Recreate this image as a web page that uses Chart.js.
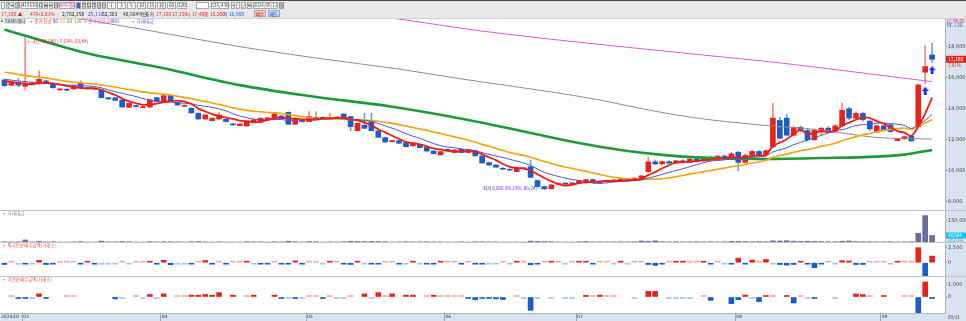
<!DOCTYPE html>
<html>
<head>
<meta charset="utf-8">
<script src="https://cdn.jsdelivr.net/npm/chart.js@4.4.1/dist/chart.umd.min.js"></script>
<style>
  html, body { margin: 0; padding: 0; background: #fff; overflow: hidden; }
  #wrap { position: relative; width: 966px; height: 321px; }
</style>
</head>
<body>
<div id="wrap"><canvas id="chart"></canvas></div>
<script>
// trading days shown (135 of 436), 2024/02/27 .. 2024/09/11
const dates = [
  "02/27","02/28","02/29",
  "03/04","03/05","03/06","03/07","03/08","03/11","03/12","03/13","03/14","03/15","03/18","03/19","03/20","03/21","03/22","03/25","03/26","03/27","03/28","03/29",
  "04/01","04/02","04/03","04/04","04/05","04/08","04/09","04/11","04/12","04/15","04/16","04/17","04/18","04/19","04/22","04/23","04/24","04/25","04/26","04/29","04/30",
  "05/02","05/03","05/07","05/08","05/09","05/10","05/13","05/14","05/16","05/17","05/20","05/21","05/22","05/23","05/24","05/27","05/28","05/29","05/30","05/31",
  "06/03","06/04","06/05","06/07","06/10","06/11","06/12","06/13","06/14","06/17","06/18","06/19","06/20","06/21","06/24","06/25","06/26","06/27","06/28",
  "07/01","07/02","07/03","07/04","07/05","07/08","07/09","07/10","07/11","07/12","07/15","07/16","07/17","07/18","07/19","07/22","07/23","07/24","07/25","07/26","07/29","07/30","07/31",
  "08/01","08/02","08/05","08/06","08/07","08/08","08/09","08/12","08/13","08/14","08/16","08/19","08/20","08/21","08/22","08/23","08/26","08/27","08/28","08/29","08/30",
  "09/02","09/03","09/04","09/05","09/06","09/09","09/10","09/11"
];

const opens = [15850,15510,15680,15440,15650,15640,15790,15640,15210,15250,
  15270,15640,15350,15320,15210,14710,14700,14560,14090,14200,
  14070,14110,14710,14500,14840,14410,14160,14030,13710,13340,
  13230,13340,13320,13020,12910,12890,13170,13130,13350,13320,
  13530,13770,13000,13320,13170,13380,13450,13330,13400,13660,
  13490,12590,12940,13170,12570,12140,11880,11950,11820,11610,
  11670,11520,11280,11030,11390,11180,11390,11180,11300,10960,
  10530,10380,10170,10090,9950,10190,10270,9380,8990,8850,
  9150,9210,9160,9210,9230,9440,9240,9300,9400,9350,
  9460,9400,9540,9950,10580,10450,10600,10500,10650,10550,
  10760,10650,10850,10750,10950,10850,11200,10550,11000,11250,
  11050,11550,13250,13400,12300,12800,12600,12000,12600,12750,
  12550,12900,14000,13400,13700,13200,12500,12900,12960,11950,
  12060,12230,12850,16350,17460];
const highs = [15900,15750,15960,18580,15700,16430,15850,15680,15300,15290,
  15500,15790,15380,15360,15240,14740,14730,14590,14370,14230,
  14160,14590,14740,14860,14870,14440,14250,14060,13740,13620,
  13410,13750,13350,13050,13040,13230,13400,13420,13450,13680,
  13580,13800,13410,13350,13810,13800,13480,13700,13460,13690,
  13520,13080,13710,13710,12600,12170,11970,11980,11850,11800,
  11700,11550,11300,11260,11420,11370,11420,11370,11330,10980,
  10560,10400,10200,10120,10190,10220,10700,9410,9020,9120,
  9230,9240,9250,9400,9460,9470,9350,9420,9450,9480,
  9520,9560,9700,10900,10700,10650,10650,10700,10720,10800,
  10850,10900,10950,11000,11050,11200,11250,11100,11300,11300,
  11350,14370,13450,13650,12900,12900,12700,12700,12800,12850,
  13000,14370,14100,13800,13750,13250,12950,12950,13000,12100,
  12250,12300,15600,18050,18200];
const lows = [15450,15480,15420,15200,15560,15530,15600,15330,15180,15170,
  15250,15330,15250,15240,14690,14600,14520,14090,14060,14110,
  14050,14090,14440,14480,14480,14220,14140,13710,13320,13320,
  13200,13320,13150,12940,12890,12870,13100,13110,13300,13300,
  13340,12980,12980,13150,13150,13360,13350,13310,13380,13430,
  12590,12570,12720,12570,12140,11840,11860,11760,11540,11590,
  11480,11260,11090,11010,11290,11160,11160,11160,10950,10490,
  10360,10220,10090,10030,9930,10120,9570,8970,8800,8820,
  9130,9140,9140,9190,9210,9220,9220,9280,9320,9330,
  9380,9380,9500,9900,10400,10400,10450,10480,10520,10530,
  10600,10600,10700,10720,10800,10800,10000,10500,10950,11000,
  11000,11500,12050,12250,12250,12500,11900,11950,12300,12500,
  12500,12850,13300,13300,13200,12600,12450,12550,12500,11930,
  12040,11900,12800,15600,16980];
const closes = [15480,15680,15510,15610,15580,15890,15640,15350,15270,15190,
  15480,15350,15280,15260,14710,14630,14540,14110,14350,14130,
  14130,14560,14460,14840,14500,14240,14220,13730,13340,13600,
  13390,13600,13170,12960,13020,13210,13280,13390,13420,13660,
  13360,13000,13390,13170,13490,13420,13370,13420,13440,13450,
  12850,13060,12740,12590,12160,11860,11950,11780,11560,11780,
  11500,11280,11110,11240,11310,11350,11180,11350,10970,10510,
  10380,10240,10110,10050,10170,10140,9590,8990,8850,9100,
  9210,9160,9230,9380,9440,9240,9330,9400,9350,9460,
  9400,9540,9680,10580,10450,10600,10500,10650,10550,10760,
  10650,10850,10750,10950,10850,11100,10550,11000,11250,11050,
  11300,13400,12100,12300,12800,12600,12000,12600,12750,12550,
  12900,13900,13400,13700,13300,12700,12900,12600,12530,12060,
  12200,11930,15530,16710,17180];

// closes of the 19 sessions before the window, needed to start the 5/10/20 averages
const priorCloses = [16900,17100,16950,16800,16700,16850,16900,16750,16600,16500,
  16200,16100,15950,16000,15900,15800,15950,15700,15850];

// long averages as [index, price]
const ma60Read = [[0,19100],[11,17670],[23,16600],[34,15520],[44,14820],[56,14130],[67,13280],
  [76,12440],[83,11800],[89,11350],[95,11030],[100,10870],[109,10770],[118,10830],[126,10920],[130,11050],[134,11350]];
const ma120Read = [[5,20250],[11,19780],[20,19100],[34,17990],[46,17200],[57,16550],[67,15850],
  [79,15080],[86,14560],[93,13920],[100,13400],[109,12960],[118,12630],[126,12150],[134,12050]];
const ma240Read = [[52,20050],[57,19770],[68,19050],[79,18470],[90,17950],[101,17450],[112,16950],[123,16350],[134,15740]];

// 거래대금 (백만)
const tradingValue = [6000,5000,5500,18000,5000,9000,5000,6000,4000,4000,
  5000,7000,4000,4000,10000,5000,5000,7000,6000,4000,
  4000,7000,5000,6000,6000,5000,4000,6000,7000,5000,
  4000,5000,4000,4000,4000,6000,5000,5000,4000,6000,
  5000,9000,6000,4000,7000,6000,4000,5000,4000,6000,
  9000,8000,7000,8000,7000,6000,4000,5000,6000,5000,
  5000,6000,5000,5000,4000,4000,5000,4000,6000,6000,
  5000,5000,4000,4000,4000,4000,10000,8000,7000,6000,
  4000,4000,4000,6000,7000,5000,5000,5000,5000,6000,
  5000,6000,11000,9000,12000,6000,5000,6000,5000,5000,
  6000,5000,6000,5000,6000,9000,8000,7000,6000,7000,
  6000,12000,11000,13000,10000,8000,9000,8000,7000,6000,
  6000,9000,11000,7000,6000,6000,5000,5000,6000,5000,
  5000,6000,63700,185000,48564];

// 외국인순매수금액(거래소)
const foreignNet = [-300,60,-60,-250,-60,400,-300,-120,60,60,
  60,-120,250,-120,-60,-60,-60,60,-60,60,
  60,200,-150,400,-350,-60,-60,-150,60,350,
  -150,60,-250,60,60,200,-60,-120,-150,60,
  -150,-150,300,-150,60,60,-60,150,60,-150,
  -300,200,-60,-250,-200,60,60,-120,-60,150,
  -60,-150,-120,200,60,60,-150,60,-200,-150,
  -60,-60,60,-60,150,60,-350,-200,60,250,
  60,-60,60,150,200,-120,60,60,-60,150,
  -60,60,60,-300,-450,-150,60,200,150,60,
  60,220,-250,60,-60,-120,750,-150,430,60,
  530,-60,-300,-400,-300,150,-120,-830,-120,60,
  -60,330,280,-300,-300,60,60,60,-60,150,
  60,60,2500,-2330,1100];

// 기관순매수금액(거래소)
const instNet = [null,60,-120,-120,-60,250,-120,null,null,60,
  60,null,null,null,null,null,-150,-60,null,60,
  -60,200,-60,250,null,60,60,150,150,200,
  150,350,null,150,null,60,150,null,null,150,
  -120,-60,-120,-60,60,60,-120,60,-60,-60,
  60,null,250,-60,350,60,250,null,150,150,
  null,60,150,60,60,60,60,-120,-220,-120,
  -120,-150,-200,null,60,-60,-1070,-60,null,-60,
  null,-60,-60,null,130,60,150,60,60,null,
  null,-60,null,450,450,null,-60,-60,-60,-60,
  null,60,-270,null,null,-530,-210,160,-60,-370,
  100,60,null,100,-480,60,-60,-100,null,null,
  -60,null,null,240,190,60,null,100,null,null,
  60,80,-1500,1200,-100];

// buy signals drawn under the last two candles
const signalIndex = [133, 134];
const signalPrice = [15150, 16480];

// axis ticks and labels
const priceTicks = [8000,9000,10000,11000,12000,13000,14000,15000,16000,17000,18000,19000];
const volumeTicks = [50000,100000,150000];
const foreignTicks = [0,2500];
const instTicks = [0,1000];
const monthStarts = [0,3,23,44,64,83,106,127];
const monthLabels = ["2024/02","03","04","05","06","07","08","09"];

const UP = '#e8231b', DOWN = '#1a5dc9';
const UP_WICK = 'rgba(232,35,27,0.55)', DOWN_WICK = 'rgba(26,93,201,0.6)';
const PALE_UP = '#f5aaa6', PALE_DOWN = '#a9c3ea';
const FONT = '"Noto Sans CJK KR", "DejaVu Sans", sans-serif';

const isUp = i => closes[i] >= opens[i];

function movingAverage(n) {
  const all = priorCloses.concat(closes);
  return closes.map((_, i) => {
    const end = i + priorCloses.length;
    let s = 0;
    for (let k = end - n + 1; k <= end; k++) s += all[k];
    return {x: i, y: s / n};
  });
}

function signedColor(v) {
  if (v === null) return 'rgba(0,0,0,0)';
  if (Math.abs(v) <= 80) return v > 0 ? PALE_UP : PALE_DOWN;
  return v > 0 ? UP : DOWN;
}

function makeArrow() {
  const c = document.createElement('canvas');
  c.width = 7; c.height = 8;
  const g = c.getContext('2d');
  g.fillStyle = '#0b3cf5';
  g.beginPath();
  g.moveTo(3.5, 0); g.lineTo(7, 4); g.lineTo(5, 4); g.lineTo(5, 8);
  g.lineTo(2, 8); g.lineTo(2, 4); g.lineTo(0, 4); g.closePath();
  g.fill();
  return c;
}

const idx = closes.map((_, i) => i);

function text(ctx, str, x, y, color, size, align) {
  ctx.fillStyle = color;
  ctx.font = (size || 5) + 'px ' + FONT;
  ctx.textAlign = align || 'left';
  ctx.textBaseline = 'middle';
  ctx.fillText(str, x, y);
}

function box(ctx, x, y, w, h, fill, stroke) {
  ctx.fillStyle = fill;
  ctx.fillRect(x, y, w, h);
  if (stroke) {
    ctx.strokeStyle = stroke;
    ctx.lineWidth = 1;
    ctx.strokeRect(x + 0.5, y + 0.5, w - 1, h - 1);
  }
}

const hts = {
  id: 'hts',
  beforeDraw(chart) {
    const {ctx, chartArea: a} = chart;
    const W = chart.width, H = chart.height;
    ctx.save();
    // header band
    box(ctx, 0, 0, W, 19, '#e9e9e9');
    box(ctx, 0, 0, W, 1, '#4a4a4a');
    box(ctx, 0, 18, W, 1, '#d0d0d0');
    // axis panels
    box(ctx, a.right, 19, W - a.right, H - 19, '#d9e3ef');
    box(ctx, 0, a.bottom, W, H - a.bottom, '#d9e3ef');
    ctx.restore();
  },
  afterDraw(chart) {
    const {ctx, chartArea: a, scales} = chart;
    const W = chart.width;
    const xs = scales.x, yp = scales.yPrice, yv = scales.yVol;
    ctx.save();

    // toolbar row
    const tools = [[1,4,'#fff',''],[6,8,'#f6f6f6','주▾'],[15,5,'#f6f6f6','권'],[21,17,'#fff','419530'],
      [39,4,'#f6f6f6','Q'],[44,4,'#f6f6f6','◈'],[49,4,'#f6f6f6','▾'],[54,4,'#f6f6f6','▤'],
      [59,16,'#fff','SAMG엔터'],[76,5,'#3a63c4',''],[82,4,'#f6f6f6','주'],[87,4,'#f6f6f6','일'],
      [92,4,'#f6f6f6','주'],[97,4,'#f6f6f6','월'],[102,4,'#f6f6f6','분'],
      [107,9,'#f6f6f6','1'],[117,9,'#f6f6f6','3'],[127,9,'#f6f6f6','5'],[137,9,'#f6f6f6','10'],
      [147,9,'#f6f6f6','15'],[157,9,'#f6f6f6','30'],[167,9,'#f6f6f6','60'],[177,10,'#f6f6f6','120'],
      [196,13,'#fff',''],[211,18,'#fff','135/436'],[231,4,'#f6f6f6','+'],[236,4,'#f6f6f6','-'],
      [241,5,'#f6f6f6','⤢'],[247,5,'#f6f6f6','⚙'],[253,25,'#fff','2024/09/11'],[279,5,'#f6f6f6','▦']];
    tools.forEach(t => {
      box(ctx, t[0], 2, t[1], 7, t[2], '#a8a8a8');
      if (t[3]) text(ctx, t[3], t[0] + t[1] / 2, 5.6, t[3] === 'SAMG엔터' ? '#d0408a' : '#333', 4.5, 'center');
    });

    // quote row
    const quote = [[1,'17,180 ▲',UP],[30,'470',UP],[38,'+2.81%',UP],[62,'2,782,158','#222'],
      [88,'25,118','#2a55c8'],[102,'32,383','#222'],[123,'48,564백만','#222'],[145,'호가','#222'],
      [156,'17,160',UP],[172,'17,150',UP],[186,'시 17,460',UP],[204,'고 18,200',UP],[223,'저 16,980',DOWN]];
    quote.forEach(q => text(ctx, q[1], q[0], 13.8, q[2], 5));
    box(ctx, 254, 10, 12, 7, '#f5c4c4', '#d49a9a');
    text(ctx, '매수', 260, 13.8, '#b02020', 4.5, 'center');
    box(ctx, 268, 10, 12, 7, '#c7d5f2', '#92a6d2');
    text(ctx, '매도', 274, 13.8, '#2040a0', 4.5, 'center');

    // legend row in the price pane
    box(ctx, 1, 20, 2, 2, '#777');
    box(ctx, 4, 19, 22, 5, '#e2e2e2');
    text(ctx, 'SAMG엔터', 5, 21.6, '#444', 4.5);
    const legend = [[29,'▪ 종가 단순 5',UP],[53,'10','#3c4fc4'],[60,'20','#f0a000'],[67,'60','#1e9e3a'],
      [74,'120','#777'],[83,'▪ 종가 단순 240','#d83cc8'],[112,'480','#6a6af0'],[131,'▪ 거래대금','#5555cc']];
    legend.forEach(l => text(ctx, l[1], l[0], 21.6, l[2], 4.5));

    // pane separators and titles
    const panes = [[scales.yVol, '▪ 거래대금', '#7a72a8'],
      [scales.yFor, '▪ 외국인순매수금액(거래소)', '#e0504a'],
      [scales.yInst, '▪ 기관순매수금액(거래소)', '#e0504a']];
    panes.forEach(p => {
      box(ctx, 0, Math.round(p[0].top) - 1, W, 1, '#c4c4c4');
      text(ctx, p[1], 2, p[0].top + 2.6, p[2], 4.5);
    });

    // month ticks on the time axis
    ctx.fillStyle = '#9aa6b8';
    monthStarts.forEach((m, k) => {
      if (k === 0) return;
      ctx.fillRect(Math.round(xs.getPixelForValue(m - 0.5)), a.bottom, 1, 8);
    });
    text(ctx, '09/11', a.right + 3, a.bottom + 4.3, '#333', 4.5);

    // high / low markers
    let hi = 0, lo = 0;
    highs.forEach((v, i) => { if (v > highs[hi]) hi = i; });
    lows.forEach((v, i) => { if (v < lows[lo]) lo = i; });
    const last = closes[closes.length - 1];
    const pct = v => ((last - v) / v * 100);
    const fmt = v => v.toLocaleString('en-US');
    const hx = xs.getPixelForValue(hi), hy = yp.getPixelForValue(highs[hi]);
    text(ctx, '← 최고 ' + fmt(highs[hi]) + ' (' + pct(highs[hi]).toFixed(2) + '%, ' + dates[hi] + ')',
      hx + 2, hy + 4, UP, 4.5);
    const lx = xs.getPixelForValue(lo), ly = yp.getPixelForValue(lows[lo]);
    text(ctx, '최저 ' + fmt(lows[lo]) + ' (' + pct(lows[lo]).toFixed(2) + '%, ' + dates[lo] + ') →',
      lx - 2, ly - 1, '#3a3ad8', 4.5, 'right');

    // right axis badges
    text(ctx, 'LC 95.00', a.right + 2, 21, UP, 4.5);
    text(ctx, 'RC 1.28', a.right + 2, 25, '#2a55c8', 4.5);
    const cy = yp.getPixelForValue(last);
    box(ctx, a.right + 1, cy - 3.5, W - a.right - 1, 7, '#e8231b');
    text(ctx, fmt(last), a.right + 3, cy, '#fff', 5);
    text(ctx, '2.81%', a.right + 3, cy + 6, UP, 4.5);
    const tv = tradingValue[tradingValue.length - 1];
    const vy = yv.getPixelForValue(tv);
    box(ctx, a.right + 1, vy - 3, W - a.right - 1, 6, '#12c4ef');
    text(ctx, fmt(tv), a.right + 3, vy, '#fff', 4.5);
    text(ctx, '28.61%', a.right + 3, vy + 5, '#12b0e0', 4.5);

    ctx.restore();
  }
};

function rightAxis(min, max, weight, ticks) {
  return {
    type: 'linear', position: 'right', stack: 'panes', stackWeight: weight,
    min: min, max: max,
    afterFit: s => { s.width = 21; },
    afterBuildTicks: s => { s.ticks = ticks.map(v => ({value: v})); },
    grid: { drawOnChartArea: false, drawTicks: true, tickLength: 2, color: '#7d889a' },
    border: { display: true, color: '#a9b3c2' },
    ticks: {
      color: '#444', padding: 1,
      font: { size: 5, family: '"DejaVu Sans", sans-serif' },
      callback: v => v.toLocaleString('en-US')
    }
  };
}

const pts = arr => arr.map(p => ({x: p[0], y: p[1]}));

new Chart(document.getElementById('chart'), {
  type: 'bar',
  data: {
    datasets: [
      { type: 'line', label: 'MA5', data: movingAverage(5), yAxisID: 'yPrice', borderColor: '#ee1c14',
        borderWidth: 1.8, pointRadius: 0, tension: 0.3, order: 1 },
      { type: 'line', label: 'MA10', data: movingAverage(10), yAxisID: 'yPrice', borderColor: '#4a56c8',
        borderWidth: 1, pointRadius: 0, tension: 0.3, order: 2 },
      { type: 'line', label: 'MA20', data: movingAverage(20), yAxisID: 'yPrice', borderColor: '#f4a300',
        borderWidth: 1.6, pointRadius: 0, tension: 0.3, order: 3 },
      { type: 'line', label: 'MA60', data: pts(ma60Read), yAxisID: 'yPrice', borderColor: '#1c9c38',
        borderWidth: 2.6, pointRadius: 0, cubicInterpolationMode: 'monotone', order: 4 },
      { type: 'line', label: 'MA120', data: pts(ma120Read), yAxisID: 'yPrice', borderColor: '#8e8e8e',
        borderWidth: 1, pointRadius: 0, cubicInterpolationMode: 'monotone', order: 5 },
      { type: 'line', label: 'MA240', data: pts(ma240Read), yAxisID: 'yPrice', borderColor: '#e256d4',
        borderWidth: 1, pointRadius: 0, cubicInterpolationMode: 'monotone', order: 6 },
      { type: 'line', label: 'signal', data: signalIndex.map((v, k) => ({x: v, y: signalPrice[k]})),
        yAxisID: 'yPrice', showLine: false, pointStyle: makeArrow(), order: 0 },
      { label: 'body', data: idx.map(i => ({x: i, y: [opens[i], closes[i]]})), yAxisID: 'yPrice',
        backgroundColor: c => isUp(c.dataIndex) ? UP : DOWN, barThickness: 5, minBarLength: 1,
        grouped: false, order: 10 },
      { label: 'wick', data: idx.map(i => ({x: i, y: [lows[i], highs[i]]})), yAxisID: 'yPrice',
        backgroundColor: c => isUp(c.dataIndex) ? UP_WICK : DOWN_WICK, barThickness: 1,
        grouped: false, order: 11 },
      { label: '거래대금', data: idx.map(i => ({x: i, y: tradingValue[i]})), yAxisID: 'yVol',
        backgroundColor: '#6b6b9e', barThickness: 5, grouped: false, order: 12 },
      { label: '외국인', data: idx.map(i => ({x: i, y: foreignNet[i]})), yAxisID: 'yFor',
        backgroundColor: c => signedColor(foreignNet[c.dataIndex]), barThickness: 5, minBarLength: 1.5,
        grouped: false, order: 13 },
      { label: '기관', data: idx.map(i => ({x: i, y: instNet[i]})), yAxisID: 'yInst',
        backgroundColor: c => signedColor(instNet[c.dataIndex]), barThickness: 5, minBarLength: 1.5,
        grouped: false, order: 14 }
    ]
  },
  options: {
    responsive: true,
    maintainAspectRatio: false,
    animation: false,
    devicePixelRatio: 1,
    events: [],
    layout: { autoPadding: false, padding: { top: 19, left: 0, right: 0, bottom: 0 } },
    plugins: { legend: { display: false }, tooltip: { enabled: false } },
    scales: {
      x: {
        type: 'linear', position: 'bottom', min: -0.5, max: 135.86, offset: false,
        afterFit: s => { s.height = 8; },
        afterBuildTicks: s => { s.ticks = monthStarts.map(m => ({value: m - 0.5})); },
        grid: { display: false, drawTicks: false, offset: false },
        border: { display: true, color: '#aab4c4' },
        ticks: {
          autoSkip: false, maxRotation: 0, align: 'start', padding: 1, color: '#333',
          font: { size: 4.5, family: '"DejaVu Sans", sans-serif' },
          callback: (v, k) => (k === 0 ? '' : ' ') + monthLabels[k]
        }
      },
      yPrice: rightAxis(7421, 19772, 192, priceTicks),
      yVol: rightAxis(-2700, 216400, 32, volumeTicks),
      yFor: rightAxis(-2383, 3283, 34, foreignTicks),
      yInst: rightAxis(-1280, 1600, 36, instTicks)
    }
  },
  plugins: [hts]
});
</script>
</body>
</html>
